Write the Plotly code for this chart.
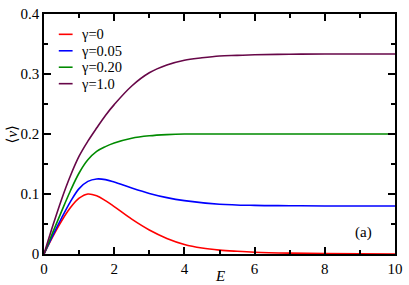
import plotly.graph_objects as go

E_red = [0, 0.25, 0.5, 0.75, 1.0, 1.25, 1.5, 1.75, 2.0, 2.5, 3.0, 3.5, 4.0, 4.5, 5.0, 5.5, 6.0, 7.0, 8.0, 9.0, 10.0]
v_red = [0, 0.029, 0.055, 0.077, 0.093, 0.100, 0.097, 0.089, 0.079, 0.058, 0.040, 0.026, 0.016, 0.010, 0.0065, 0.0045, 0.003, 0.0015, 0.0007, 0.0003, 0.0001]

E_blue = [0, 0.25, 0.5, 0.75, 1.0, 1.25, 1.5, 1.75, 2.0, 2.5, 3.0, 3.5, 4.0, 5.0, 6.0, 7.0, 8.0, 10.0]
v_blue = [0, 0.031, 0.060, 0.087, 0.109, 0.121, 0.125, 0.124, 0.120, 0.110, 0.101, 0.094, 0.089, 0.083, 0.081, 0.0805, 0.080, 0.080]

E_green = [0, 0.25, 0.5, 0.75, 1.0, 1.25, 1.5, 1.75, 2.0, 2.5, 3.0, 3.5, 4.0, 5.0, 6.0, 8.0, 10.0]
v_green = [0, 0.036, 0.071, 0.105, 0.135, 0.157, 0.171, 0.179, 0.185, 0.193, 0.197, 0.199, 0.200, 0.200, 0.200, 0.200, 0.200]

E_purple = [0, 0.25, 0.5, 0.75, 1.0, 1.25, 1.5, 1.75, 2.0, 2.5, 3.0, 3.5, 4.0, 4.5, 5.0, 5.5, 6.0, 7.0, 8.0, 10.0]
v_purple = [0, 0.047, 0.091, 0.130, 0.163, 0.188, 0.210, 0.231, 0.249, 0.280, 0.302, 0.315, 0.323, 0.327, 0.330, 0.331, 0.332, 0.333, 0.3333, 0.3333]

names = ["γ=0", "γ=0.05", "γ=0.20", "γ=1.0"]
colors = ["#ff0000", "#0000ff", "#008b00", "#670748"]

x_ticks = [0, 2, 4, 6, 8, 10]
y_ticks = [0, 0.1, 0.2, 0.3, 0.4]
y_ticklabels = ["0", "0.1", "0.2", "0.3", "0.4"]

series = [(E_red, v_red), (E_blue, v_blue), (E_green, v_green), (E_purple, v_purple)]

font_family = "Liberation Serif, Times New Roman, DejaVu Serif, serif"

fig = go.Figure()
for (xs, ys), name, col in zip(series, names, colors):
    fig.add_trace(go.Scatter(x=xs, y=ys, mode="lines", name=name, showlegend=False,
                             line=dict(color=col, width=1.6, shape="spline", smoothing=1.0)))

# plot-area geometry in pixels (for placing legend / labels)
W, H = 409, 285
ml, mr, mt, mb = 44, 9, 6, 31
pw, ph = W - ml - mr, H - mt - mb

def px_x(p):
    return (p - ml) / pw

def px_y(p):
    return (H - mb - p) / ph

shapes = []
annotations = []
legend_rows = [27, 44, 61, 78]
for name, col, row in zip(names, colors, legend_rows):
    shapes.append(dict(type="line", xref="paper", yref="paper",
                       x0=px_x(59), x1=px_x(73), y0=px_y(row), y1=px_y(row),
                       line=dict(color=col, width=1.6)))
    annotations.append(dict(text=name, xref="paper", yref="paper", x=px_x(79), y=px_y(row),
                            xanchor="left", yanchor="middle", showarrow=False,
                            font=dict(family=font_family, size=14.5, color="black")))

annotations.append(dict(text="(a)", x=px_x(368), y=px_y(232), xref="paper", yref="paper",
                        xanchor="center", yanchor="middle", showarrow=False,
                        font=dict(family=font_family, size=15, color="black")))
annotations.append(dict(text="<i>E</i>", x=px_x(222), y=px_y(277), xref="paper", yref="paper",
                        xanchor="center", yanchor="middle", showarrow=False,
                        font=dict(family=font_family, size=15, color="black")))
annotations.append(dict(text="⟨<i>v</i>⟩", x=px_x(12), y=0.5, xref="paper", yref="paper",
                        xanchor="center", yanchor="middle", showarrow=False, textangle=-90,
                        font=dict(family=font_family, size=15, color="black")))

axis_common = dict(showline=True, linecolor="black", linewidth=1.5, mirror="allticks",
                   ticks="inside", ticklen=7, tickwidth=1.5, tickcolor="black",
                   showgrid=False, zeroline=False,
                   tickfont=dict(family=font_family, size=15, color="black"))

fig.update_layout(
    width=W, height=H,
    margin=dict(l=ml, r=mr, t=mt, b=mb),
    paper_bgcolor="white", plot_bgcolor="white",
    font=dict(family=font_family, size=14, color="black"),
    showlegend=False,
    xaxis=dict(range=[0, 10], tickvals=x_ticks, ticktext=[str(t) for t in x_ticks],
               minor=dict(ticks="inside", ticklen=4, tickwidth=1.5, tickcolor="black", dtick=1, showgrid=False),
               **axis_common),
    yaxis=dict(range=[0, 0.4], tickvals=y_ticks, ticktext=y_ticklabels,
               minor=dict(ticks="inside", ticklen=4, tickwidth=1.5, tickcolor="black", dtick=0.05, showgrid=False),
               **axis_common),
    shapes=shapes,
    annotations=annotations,
)

fig.write_html("out.html", config={"displayModeBar": False},
               post_script="document.body.style.margin='0';document.body.style.overflow='hidden';")
